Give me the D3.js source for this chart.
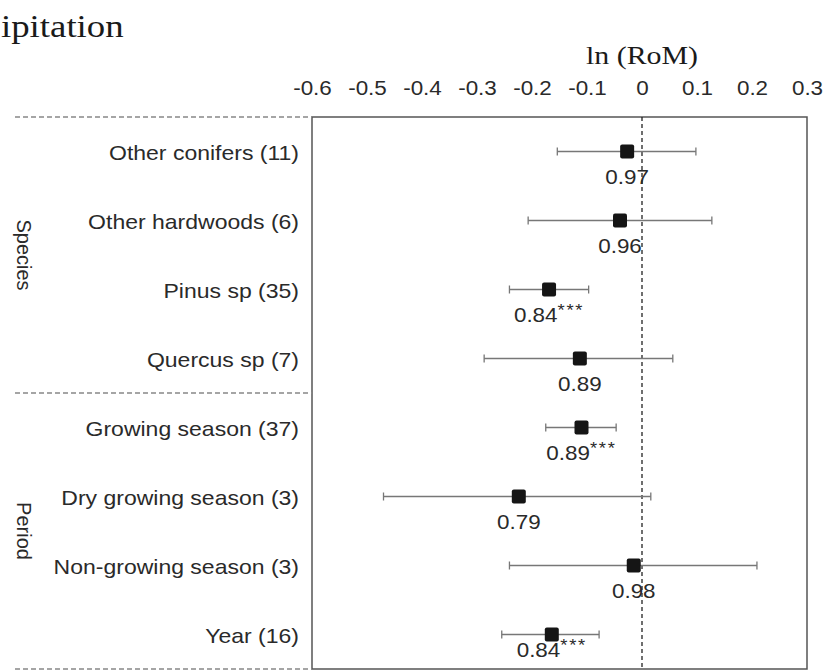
<!DOCTYPE html>
<html>
<head>
<meta charset="utf-8">
<script src="https://cdn.jsdelivr.net/npm/d3@7"></script>
<style>
  html, body { margin: 0; padding: 0; background: #fff; }
  svg { display: block; }
  text { font-family: "Liberation Sans", Arial, sans-serif; fill: #2a2a2a; }
  .serif { font-family: "Liberation Serif", "Times New Roman", serif; fill: #1a1a1a; }
</style>
</head>
<body>
<div id="mainDiv"></div>
<script>
'use strict';

// data
var categories = ['Other conifers (11)', 'Other hardwoods (6)', 'Pinus sp (35)', 'Quercus sp (7)',
                  'Growing season (37)', 'Dry growing season (3)', 'Non-growing season (3)', 'Year (16)'];
var groups     = ['Species', 'Species', 'Species', 'Species', 'Period', 'Period', 'Period', 'Period'];
var lnRoM      = [-0.027, -0.040, -0.169, -0.113, -0.110, -0.224, -0.015, -0.164];
var lower      = [-0.154, -0.207, -0.241, -0.287, -0.175, -0.470, -0.241, -0.255];
var upper      = [ 0.098,  0.127, -0.097,  0.056, -0.047,  0.016,  0.209, -0.078];
var romLabels  = ['0.97', '0.96', '0.84', '0.89', '0.89', '0.79', '0.98', '0.84'];
var sigLabels  = ['', '', '***', '', '***', '', '', '***'];
var xTicks     = [-0.6, -0.5, -0.4, -0.3, -0.2, -0.1, 0, 0.1, 0.2, 0.3];
var titleText  = 'ipitation';   // only this part of the title is visible in the figure
var axisTitle  = 'ln (RoM)';

var chart = {};
chart.w = 825;
chart.h = 671;
chart.box = {left: 312, right: 807, top: 117, bottom: 669};
chart.sx = 1.15;   // figure is a bit stretched sideways

var rows = categories.map(function(c, i) {
    return {cat: c, group: groups[i], m: lnRoM[i], lo: lower[i], hi: upper[i], rom: romLabels[i], sig: sigLabels[i]};
});

var svg = d3.select('#mainDiv').append('svg')
    .attr('width', chart.w)
    .attr('height', chart.h);

var x = d3.scaleLinear().domain([-0.6, 0.3]).range([chart.box.left, chart.box.right]);
var y = d3.scaleBand().domain(categories).range([chart.box.top, chart.box.bottom]).padding(0);
var yc = function(c) { return y(c) + y.bandwidth() / 2; };

// stretched text helper
function stext(g, px, py, str, anchor, size, cls) {
    var t = g.append('text')
        .attr('transform', 'translate(' + px + ',' + py + ') scale(' + chart.sx + ',1)')
        .attr('text-anchor', anchor)
        .style('font-size', size + 'px')
        .text(str);
    if (cls) t.attr('class', cls);
    return t;
}

// title fragment at the top left
stext(svg, 1, 37, titleText, 'start', 32, 'serif');

// axis label
stext(svg, x(0), 64, axisTitle, 'middle', 26, 'serif');

// top axis
var xAxis = d3.axisTop(x)
    .tickValues(xTicks)
    .tickSize(0)
    .tickPadding(0)
    .tickFormat(function(d) { return d === 0 ? '0' : d.toFixed(1); });

var axG = svg.append('g')
    .attr('transform', 'translate(0,95)')
    .call(xAxis);
axG.select('.domain').remove();
axG.selectAll('text')
    .attr('dy', 0)
    .attr('y', 0)
    .attr('fill', '#2a2a2a')
    .attr('transform', 'scale(' + chart.sx + ',1)')
    .style('font-size', '19.5px')
    .style('font-family', '"Liberation Sans", Arial, sans-serif');

// plot box
svg.append('rect')
    .attr('x', chart.box.left)
    .attr('y', chart.box.top)
    .attr('width', chart.box.right - chart.box.left)
    .attr('height', chart.box.bottom - chart.box.top)
    .attr('fill', 'none')
    .attr('stroke', '#555')
    .attr('stroke-width', 1.5);

// zero line
svg.append('line')
    .attr('x1', x(0)).attr('x2', x(0))
    .attr('y1', chart.box.top).attr('y2', chart.box.bottom)
    .attr('stroke', '#222')
    .attr('stroke-width', 1.3)
    .attr('stroke-dasharray', '4,3');

// group separators (dashed, left of the box)
var groupNames = ['Species', 'Period'];
var seps = [chart.box.top];
groupNames.forEach(function(gname) {
    var last = rows.filter(function(r) { return r.group === gname; }).pop();
    seps.push(y(last.cat) + y.bandwidth());
});
svg.selectAll('line.sep')
    .data(seps)
    .enter()
    .append('line')
    .attr('class', 'sep')
    .attr('x1', 15).attr('x2', chart.box.left)
    .attr('y1', function(d) { return d; })
    .attr('y2', function(d) { return d; })
    .attr('stroke', '#888')
    .attr('stroke-width', 1.3)
    .attr('stroke-dasharray', '5,3');

// group labels, rotated
groupNames.forEach(function(gname) {
    var rs = rows.filter(function(r) { return r.group === gname; });
    var cy = (yc(rs[0].cat) + yc(rs[rs.length - 1].cat)) / 2;
    svg.append('text')
        .attr('transform', 'translate(17,' + cy + ') rotate(90)')
        .attr('text-anchor', 'middle')
        .style('font-size', '20px')
        .text(gname);
});

// category labels
rows.forEach(function(r) {
    stext(svg, 299, yc(r.cat) + 8, r.cat, 'end', 20);
});

// error bars
var bars = svg.append('g').attr('class', 'bars');
var capH = 4;
rows.forEach(function(r) {
    var cy = yc(r.cat);
    bars.append('line')
        .attr('x1', x(r.lo)).attr('x2', x(r.hi))
        .attr('y1', cy).attr('y2', cy)
        .attr('stroke', '#777').attr('stroke-width', 1.3);
    [r.lo, r.hi].forEach(function(v) {
        bars.append('line')
            .attr('x1', x(v)).attr('x2', x(v))
            .attr('y1', cy - capH).attr('y2', cy + capH)
            .attr('stroke', '#777').attr('stroke-width', 1.3);
    });
});

// markers
svg.selectAll('rect.pt')
    .data(rows)
    .enter()
    .append('rect')
    .attr('class', 'pt')
    .attr('x', function(d) { return x(d.m) - 7; })
    .attr('y', function(d) { return yc(d.cat) - 7; })
    .attr('width', 14)
    .attr('height', 14)
    .attr('rx', 2)
    .attr('fill', '#151515');

// RoM labels under the markers
rows.forEach(function(r, i) {
    var dy = (i === rows.length - 1) ? 22 : 32;
    var t = stext(svg, x(r.m), yc(r.cat) + dy, r.rom, 'middle', 19.5);
    if (r.sig) {
        t.append('tspan')
            .attr('dy', -6)
            .style('font-size', '16px')
            .style('letter-spacing', '1.5px')
            .text(r.sig);
    }
});
</script>
</body>
</html>
